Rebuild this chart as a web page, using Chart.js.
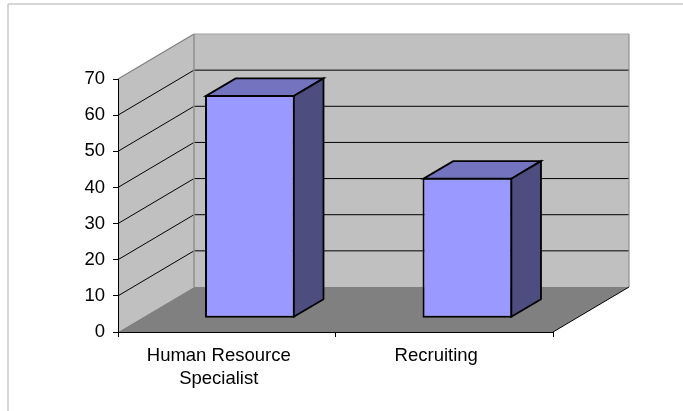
<!DOCTYPE html>
<html lang="en">
<head>
    <meta charset="UTF-8">
    <title>Human Resource Specialist vs Recruiting</title>
    <script src="https://cdn.jsdelivr.net/npm/chart.js"></script>
    <style>
        html, body { margin: 0; padding: 0; background: #fff; overflow: hidden; }
        canvas { display: block; }
    </style>
</head>
<body>
    <canvas id="chart" width="683" height="411"></canvas>
    <script>
        const categories = [['Human Resource', 'Specialist'], 'Recruiting'];
        const seriesValues = [61.8, 38.9];
        const yTicks = [0, 10, 20, 30, 40, 50, 60, 70];

        // 3d look: how far the back wall sits from the axes
        const DEPTH_X = 76;
        const DEPTH_Y = -45;
        // bars stand a little way into the floor and have their own depth
        const BAR_SHIFT = 0.305;
        const BAR_DEPTH = 0.39;
        const BAR_BORDER = 2;

        function poly(ctx, pts, fill, stroke, lw) {
            ctx.beginPath();
            pts.forEach((p, i) => i ? ctx.lineTo(p[0], p[1]) : ctx.moveTo(p[0], p[1]));
            ctx.closePath();
            if (fill) { ctx.fillStyle = fill; ctx.fill(); }
            if (stroke) { ctx.strokeStyle = stroke; ctx.lineWidth = lw; ctx.lineJoin = 'miter'; ctx.stroke(); }
        }

        function line(ctx, x1, y1, x2, y2, color, lw) {
            ctx.beginPath();
            ctx.moveTo(x1, y1);
            ctx.lineTo(x2, y2);
            ctx.strokeStyle = color;
            ctx.lineWidth = lw;
            ctx.stroke();
        }

        const fake3d = {
            id: 'fake3d',
            beforeDraw(chart) {
                const ctx = chart.ctx;
                const { left, right, top, bottom } = chart.chartArea;
                const y = chart.scales.y;
                ctx.save();

                // outer frame, only top and left are in the picture
                line(ctx, 8, 411, 8, 4, '#c8c8c8', 1.5);
                line(ctx, 8, 4, 683, 4, '#c8c8c8', 1.5);

                const bl = left + DEPTH_X, br = right + DEPTH_X;
                const bt = top + DEPTH_Y, bb = bottom + DEPTH_Y;

                // walls and floor
                poly(ctx, [[left, top], [bl, bt], [bl, bb], [left, bottom]], '#c0c0c0');
                poly(ctx, [[bl, bt], [br, bt], [br, bb], [bl, bb]], '#c0c0c0');
                poly(ctx, [[left, bottom], [right, bottom], [br, bb], [bl, bb]], '#808080');

                // grid lines run along the side wall and the back wall
                yTicks.slice(1, -1).forEach(v => {
                    const py = y.getPixelForValue(v);
                    line(ctx, left, py, bl, py + DEPTH_Y, '#000', 1);
                    line(ctx, bl, py + DEPTH_Y, br, py + DEPTH_Y, '#000', 1);
                });

                // wall edges
                line(ctx, left, top, bl, bt, '#808080', 1.2);
                line(ctx, bl, bt, br, bt, '#a0a0a0', 1.2);
                line(ctx, bl, bt, bl, bb, '#909090', 1.5);
                line(ctx, br, bt, br, bb, '#909090', 1.2);
                line(ctx, right, bottom, br, bb, '#000', 1);

                ctx.restore();
            },
            beforeDatasetsDraw(chart) {
                chart.ctx.save();
                chart.ctx.translate(DEPTH_X * BAR_SHIFT, DEPTH_Y * BAR_SHIFT);
            },
            afterDatasetsDraw(chart) {
                const ctx = chart.ctx;
                const dx = DEPTH_X * BAR_DEPTH, dy = DEPTH_Y * BAR_DEPTH;
                const inset = BAR_BORDER / 2; // chart.js strokes bars inside their box
                chart.getDatasetMeta(0).data.forEach(bar => {
                    const l = bar.x - bar.width / 2 + inset, r = bar.x + bar.width / 2 - inset;
                    const t = bar.y + inset, b = bar.base - inset;
                    poly(ctx, [[l, t], [r, t], [r + dx, t + dy], [l + dx, t + dy]], '#7373bf', '#000', 1.8);
                    poly(ctx, [[r, t], [r + dx, t + dy], [r + dx, b + dy], [r, b]], '#4d4d80', '#000', 1.8);
                });
                ctx.restore();
            }
        };

        new Chart(document.getElementById('chart'), {
            type: 'bar',
            data: {
                labels: categories,
                datasets: [{
                    data: seriesValues,
                    backgroundColor: '#9999ff',
                    borderColor: '#000',
                    borderWidth: BAR_BORDER,
                    borderSkipped: false,
                    barPercentage: 0.413,
                    categoryPercentage: 1,
                    clip: false
                }]
            },
            options: {
                responsive: false,
                devicePixelRatio: 1,
                animation: false,
                layout: { padding: { top: 79, right: 130, left: 0, bottom: 0 } },
                plugins: { legend: { display: false }, tooltip: { enabled: false } },
                scales: {
                    x: {
                        afterFit: s => { s.height = 79; },
                        border: { color: '#000', width: 1 },
                        grid: { drawOnChartArea: false, color: '#000', tickLength: 5 },
                        ticks: { color: '#000', padding: 7, maxRotation: 0, labelOffset: -8, font: { family: 'Liberation Sans', size: 18.5, lineHeight: 1.25 } }
                    },
                    y: {
                        min: 0,
                        max: 70,
                        afterFit: s => { s.width = 118; },
                        afterBuildTicks: s => { s.ticks = yTicks.map(v => ({ value: v })); },
                        border: { color: '#000', width: 1 },
                        grid: { drawOnChartArea: false, color: '#000', tickLength: 5 },
                        ticks: { color: '#000', padding: 8, font: { family: 'Liberation Sans', size: 18.5 } }
                    }
                }
            },
            plugins: [fake3d]
        });
    </script>
</body>
</html>
